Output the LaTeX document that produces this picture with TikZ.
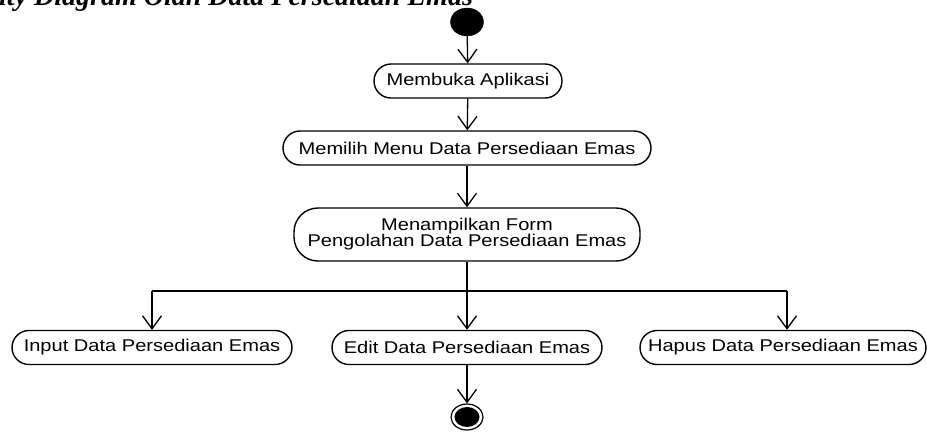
\documentclass[tikz,border=0pt]{standalone}
\usepackage{fontspec}
\setmainfont{Liberation Sans}[FakeStretch=1.18]
\newfontfamily\titlefont{Liberation Serif}
\usetikzlibrary{arrows.meta,shapes.geometric}
\begin{document}
\begin{tikzpicture}[x=1pt,y=-1pt,
  act/.style={draw=black, line width=1.4pt, rounded corners=17pt, minimum height=34pt, inner sep=0pt, align=center, font=\fontsize{17}{17}\selectfont},
  flow/.style={line width=1.3pt, -{Straight Barb[length=13pt,width=19pt,line width=1.3pt]}},
  plain/.style={line width=1.3pt}
]
\useasboundingbox (0,0) rectangle (927,432);
\clip (0,0) rectangle (927,432);
\fill[white] (0,0) rectangle (927,432);

\node[anchor=base west, inner sep=0pt, font=\titlefont\fontsize{28}{28}\selectfont\bfseries\itshape] (title) at (-1,5) {ity Diagram Olah Data Persediaan Emas};

\node[draw, fill=black, ellipse, minimum width=33pt, minimum height=28pt, inner sep=0pt] (start) at (467,22) {};

\node[act, minimum width=188pt] (buka) at (468,81) {Membuka Aplikasi};
\node[act, minimum width=368pt] (pilih) at (467,148) {Memilih Menu Data Persediaan Emas};
\node[act, minimum width=346pt, minimum height=53pt, rounded corners=24pt] (tampil) at (467,234.5) {Menampilkan Form\\[-1pt]Pengolahan Data Persediaan Emas};

\node[act, minimum width=280pt] (input) at (152,347.5) {Input Data Persediaan Emas};
\node[act, minimum width=270pt] (edit) at (467,347.5) {Edit Data Persediaan Emas};
\node[act, minimum width=286pt] (hapus) at (783,347.5) {Hapus Data Persediaan Emas};

\node[draw, line width=1.2pt, ellipse, minimum width=32pt, minimum height=26pt, inner sep=0pt] (end) at (467,417) {};
\fill[black] (end.center) ellipse (12.5 and 10);

\coordinate (bm) at (467,291);
\coordinate (bl) at (152,291);
\coordinate (br) at (787,291);

\draw[flow] (start) -- (buka);
\draw[flow] (buka) -- (pilih);
\draw[flow] (pilih) -- (tampil);
\draw[plain] (tampil.south) -- (bm);
\draw[plain] (bl) -- (br);
\draw[flow] (bl) -- (bl |- input.north);
\draw[flow] (bm) -- (edit.north);
\draw[flow] (br) -- (br |- hapus.north);
\draw[flow] (edit) -- (end);
\end{tikzpicture}
\end{document}
